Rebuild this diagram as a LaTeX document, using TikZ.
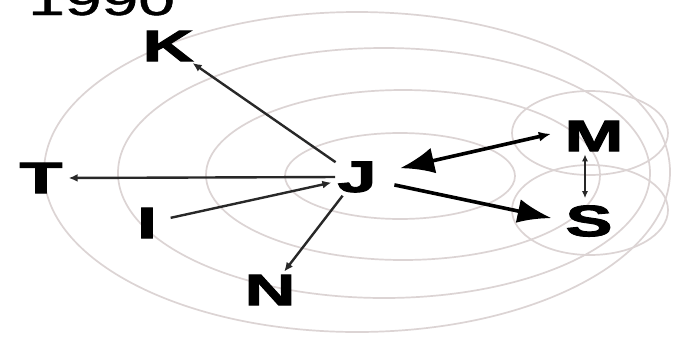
\documentclass[tikz,border=0pt]{standalone}
\usepackage{fontspec}
\setmainfont{Liberation Sans}
\usetikzlibrary{arrows.meta}
\definecolor{ringc}{RGB}{220,212,212}
\definecolor{linec}{RGB}{40,40,40}
\newcommand\widetxt[1]{\scalebox{1.6}[1]{#1}}
\begin{document}
\begin{tikzpicture}[x=1pt,y=-1pt,
  lab/.style={font=\fontsize{44}{44}\selectfont\bfseries\addfontfeature{FakeBold=2}, inner sep=0pt},
  ring/.style={draw=ringc, line width=1.7pt},
  thinarrow/.style={draw=linec, line width=2.4pt, -{Latex[length=9pt,width=8pt]}},
  thickarrow/.style={draw=black, line width=3.6pt}]
\useasboundingbox (0,0) rectangle (685,341);
\fill[white] (0,0) rectangle (685,341);
% rings
\draw[ring] (357,172) ellipse [x radius=313, y radius=160];
\draw[ring] (384,173) ellipse [x radius=266, y radius=125];
\draw[ring] (403,175) ellipse [x radius=197, y radius=85];
\draw[ring] (400,176) ellipse [x radius=115, y radius=43];
\draw[ring] (590,133) ellipse [x radius=78, y radius=42];
\draw[ring] (590,210) ellipse [x radius=78, y radius=45];
% title (cut off at top, as in the reference)
\node[anchor=base west, inner sep=0pt, font=\fontsize{44}{44}\selectfont\addfontfeature{FakeBold=1}] (year) at (28,15) {\scalebox{1.5}[1]{1990}};
% labels
\node[lab] (J) at (357,177) {\widetxt{J}};
\node[lab] (K) at (168,46) {\widetxt{K}};
\node[lab] (T) at (41,178) {\widetxt{T}};
\node[lab] (I) at (147,223) {\widetxt{I}};
\node[lab] (N) at (270,290) {\widetxt{N}};
\node[lab] (M) at (594,136) {\widetxt{M}};
\node[lab] (S) at (589,221) {\widetxt{S}};
% connectors
\draw[thinarrow, shorten <=2pt, shorten >=3pt] (J) -- (K);
\draw[thinarrow, shorten <=2pt, shorten >=6pt] (J.west) -- (T.east);
\draw[thinarrow, shorten <=14pt, shorten >=6pt] (I) -- (J);
\draw[thinarrow, shorten <=4pt, shorten >=4pt] (J) -- (N);
\draw[thickarrow, {Latex[length=34pt,width=26pt]}-{Latex[length=12pt,width=10pt]}, shorten <=24pt, shorten >=14pt] (J.10) -- (M.170);
\draw[thickarrow, -{Latex[length=34pt,width=24pt]}, shorten <=18pt, shorten >=14pt] (J.-12) -- (S.west);
\draw[draw=linec, line width=1.8pt, {Latex[length=7pt,width=6pt]}-{Latex[length=7pt,width=6pt]}, shorten <=3pt, shorten >=7pt] ([xshift=-9pt]M.south) -- ([xshift=-4pt]S.north);
\end{tikzpicture}
\end{document}
